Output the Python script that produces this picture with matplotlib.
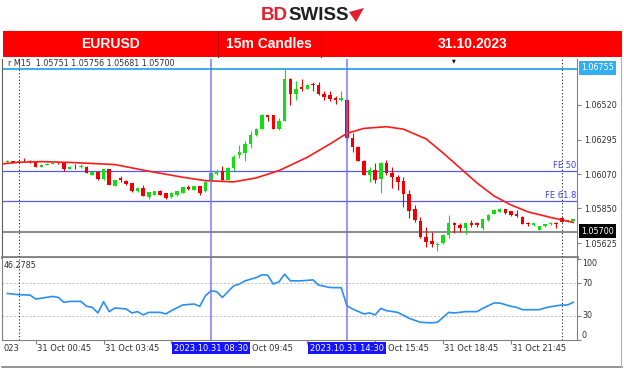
import matplotlib
matplotlib.use("Agg")
import matplotlib.pyplot as plt
from matplotlib.patches import Rectangle, Polygon
import numpy as np

# ---- data (EURUSD M15, bar 0 = 31 Oct 00:00) ----
bars = list(range(-2, 99))
opens = [1.06151, 1.06154, 1.06151, 1.06158, 1.06154, 1.06151, 1.06121, 1.06132, 1.06138, 1.06147,
         1.06143, 1.06108, 1.06121, 1.06116, 1.06117, 1.06067, 1.06088, 1.06039, 1.06104, 1.05998,
         1.06048, 1.06030, 1.06013, 1.05962, 1.05983, 1.05923, 1.05940, 1.05966, 1.05951, 1.05923,
         1.05936, 1.05951, 1.05986, 1.05972, 1.05994, 1.05962, 1.06026, 1.06074, 1.06091, 1.06037,
         1.06112, 1.06195, 1.06209, 1.06268, 1.06324, 1.06365, 1.06453, 1.06453, 1.06367, 1.06418,
         1.06690, 1.06591, 1.06635, 1.06625, 1.06656, 1.06647, 1.06591, 1.06583, 1.06565, 1.06554,
         1.06554, 1.06305, 1.06250, 1.06160, 1.06067, 1.06099, 1.06039, 1.06143, 1.06082, 1.06056,
         1.06030, 1.05944, 1.05845, 1.05771, 1.05668, 1.05642, 1.05614, 1.05625, 1.05679, 1.05758,
         1.05743, 1.05722, 1.05754, 1.05754, 1.05722, 1.05776, 1.05815, 1.05830, 1.05845, 1.05834,
         1.05813, 1.05797, 1.05758, 1.05742, 1.05711, 1.05737, 1.05748, 1.05758, 1.05787, 1.05765,
         1.05769]
highs = [1.06161, 1.06158, 1.06164, 1.06177, 1.06161, 1.06154, 1.06138, 1.06142, 1.06151, 1.06151,
         1.06145, 1.06125, 1.06138, 1.06135, 1.06122, 1.06093, 1.06093, 1.06106, 1.06106, 1.06035,
         1.06059, 1.06035, 1.06015, 1.05986, 1.06004, 1.05957, 1.05965, 1.05968, 1.05953, 1.05954,
         1.05964, 1.05991, 1.06002, 1.05996, 1.05996, 1.06025, 1.06083, 1.06106, 1.06123, 1.06116,
         1.06198, 1.06259, 1.06285, 1.06350, 1.06371, 1.06462, 1.06457, 1.06455, 1.06436, 1.06760,
         1.06695, 1.06673, 1.06690, 1.06656, 1.06669, 1.06669, 1.06609, 1.06609, 1.06576, 1.06613,
         1.06556, 1.06339, 1.06255, 1.06164, 1.06121, 1.06147, 1.06153, 1.06164, 1.06121, 1.06067,
         1.06056, 1.05970, 1.05873, 1.05797, 1.05733, 1.05700, 1.05636, 1.05682, 1.05808, 1.05765,
         1.05754, 1.05758, 1.05776, 1.05765, 1.05784, 1.05813, 1.05845, 1.05852, 1.05849, 1.05836,
         1.05841, 1.05800, 1.05765, 1.05756, 1.05739, 1.05750, 1.05761, 1.05765, 1.05792, 1.05776,
         1.05782]
lows = [1.06145, 1.06145, 1.06148, 1.06148, 1.06145, 1.06119, 1.06116, 1.06128, 1.06135, 1.06138,
        1.06095, 1.06106, 1.06108, 1.06112, 1.06077, 1.06064, 1.06037, 1.06037, 1.06000, 1.05994,
        1.06022, 1.06003, 1.05957, 1.05959, 1.05929, 1.05914, 1.05936, 1.05936, 1.05914, 1.05920,
        1.05933, 1.05947, 1.05968, 1.05970, 1.05940, 1.05959, 1.06024, 1.06067, 1.06035, 1.06035,
        1.06091, 1.06177, 1.06156, 1.06242, 1.06321, 1.06363, 1.06414, 1.06365, 1.06360, 1.06416,
        1.06522, 1.06554, 1.06609, 1.06622, 1.06609, 1.06583, 1.06554, 1.06548, 1.06526, 1.06544,
        1.06296, 1.06218, 1.06156, 1.06064, 1.06024, 1.06013, 1.05949, 1.06067, 1.05981, 1.05970,
        1.05858, 1.05788, 1.05765, 1.05658, 1.05603, 1.05603, 1.05578, 1.05621, 1.05658, 1.05690,
        1.05700, 1.05685, 1.05733, 1.05733, 1.05711, 1.05772, 1.05811, 1.05828, 1.05815, 1.05804,
        1.05797, 1.05747, 1.05739, 1.05737, 1.05708, 1.05733, 1.05746, 1.05722, 1.05761, 1.05763,
        1.05766]
closes = [1.06154, 1.06151, 1.06158, 1.06154, 1.06151, 1.06121, 1.06134, 1.06138, 1.06147, 1.06143,
          1.06104, 1.06121, 1.06116, 1.06125, 1.06082, 1.06088, 1.06039, 1.06104, 1.06003, 1.06032,
          1.06033, 1.06009, 1.05962, 1.05983, 1.05933, 1.05955, 1.05962, 1.05940, 1.05918, 1.05951,
          1.05962, 1.05988, 1.05977, 1.05994, 1.05951, 1.06022, 1.06080, 1.06091, 1.06037, 1.06112,
          1.06182, 1.06216, 1.06268, 1.06324, 1.06367, 1.06457, 1.06440, 1.06367, 1.06418, 1.06690,
          1.06591, 1.06623, 1.06625, 1.06651, 1.06647, 1.06591, 1.06570, 1.06561, 1.06554, 1.06565,
          1.06305, 1.06250, 1.06160, 1.06067, 1.06099, 1.06035, 1.06143, 1.06078, 1.06056, 1.06024,
          1.05944, 1.05836, 1.05776, 1.05668, 1.05635, 1.05621, 1.05621, 1.05679, 1.05758, 1.05743,
          1.05722, 1.05754, 1.05743, 1.05743, 1.05780, 1.05808, 1.05841, 1.05845, 1.05819, 1.05808,
          1.05802, 1.05750, 1.05748, 1.05754, 1.05737, 1.05748, 1.05758, 1.05750, 1.05765, 1.05774,
          1.05780]

# moving average (red curve)
ma_idx = [-3, 0, 4, 9, 13, 17, 23, 29, 33, 38, 42, 46, 51, 55, 58, 61, 65, 68, 72, 75,
          78, 81, 84, 87, 90, 94, 96, 98]
ma_val = [1.06138, 1.06149, 1.06153, 1.06148, 1.06141, 1.06134, 1.06091, 1.06052, 1.06030, 1.06022,
          1.06048, 1.06095, 1.06181, 1.06267, 1.06336, 1.06368, 1.06379, 1.06363, 1.06300, 1.06209,
          1.06112, 1.06015, 1.05931, 1.05873, 1.05828, 1.05792, 1.05776, 1.05760]

# oscillator (lower pane)
osc_idx = [-2, 0, 2, 3, 6, 7, 8, 9, 11, 12, 13, 14, 15, 16, 17, 19, 20, 21, 22, 23,
           25, 26, 27, 29, 31, 32, 33, 34, 35, 36, 38, 39, 40, 42, 43, 44, 45, 46, 47, 48,
           50, 52, 53, 55, 57, 58, 59, 61, 62, 63, 64, 65, 67, 69, 71, 73, 74, 76, 77, 79,
           81, 82, 84, 85, 87, 88, 89, 92, 93, 94, 96, 97, 98]
osc_val = [57.3, 55.7, 55.3, 50.4, 53.6, 52.4, 46.3, 47.5, 47.5, 41.4, 40.2, 33.3, 47.1, 34.9, 39.4,
           38.2, 33.3, 34.9, 30.9, 34.0, 34.0, 32.1, 36.1, 43.1, 44.3, 41.4, 54.5, 60.6, 59.4, 52.4,
           66.7, 68.8, 72.8, 76.9, 80.2, 79.8, 68.8, 71.6, 81.0, 72.8, 72.8, 74.0, 67.6, 64.6, 64.3,
           42.2, 38.2, 32.1, 33.3, 30.9, 38.9, 36.1, 34.0, 26.7, 21.8, 21.1, 21.8, 34.0, 33.3, 34.9,
           34.9, 38.9, 45.5, 45.5, 41.4, 40.2, 37.3, 37.3, 39.4, 41.0, 43.1, 43.1, 46.3]
osc_current = "46.2785"
osc_levels = [100, 70, 30, 0]

price_ticks = [1.06520, 1.06295, 1.06070, 1.05850, 1.05625]
high_level = 1.06755
fe50 = 1.06093
fe618 = 1.05901
bid_level = 1.05700

# time scale: tick bars and the part of each label left visible on screen
time_idx = [3, 15, 27, 39, 51, 63, 75, 87]
time_labels = ["31 Oct 00:45", "31 Oct 03:45", "", "Oct 09:45",
               "", "Oct 15:45", "31 Oct 18:45", "31 Oct 21:45"]
first_label = "023"
event_idx = [34, 58]
event_labels = ["2023.10.31 08:30", "2023.10.31 14:30"]
day_sep = [0, 96]

# ---- styling ----
GREEN = "#12dc12"
RED = "#ee0000"
EVENT = "#6e6eff"
FE = "#5a5af0"
FRAME = "#808080"
TXT = "#303030"

W, H = 624, 372
fig = plt.figure(figsize=(6.24, 3.72), dpi=100)


def box(x0, y0, x1, y1):
    return [x0 / W, 1 - y1 / H, (x1 - x0) / W, (y1 - y0) / H]


XLIM = (-2.95, 98.67)

# main price pane
ax = fig.add_axes(box(2, 59, 577, 257))
ax.set_xlim(*XLIM)
ax.set_ylim(1.05536, 1.06817)
o, h, l, c = map(np.array, (opens, highs, lows, closes))
cols = np.where(c >= o, GREEN, RED)
ax.vlines(bars, l, h, colors=cols, lw=0.8, zorder=3)
ax.bar(bars, np.maximum(np.abs(c - o), 0.00003), bottom=np.minimum(o, c),
       width=0.62, color=cols, linewidth=0, zorder=4)
ax.plot(ma_idx, ma_val, color="#ff1a1a", lw=1.2, zorder=5)

ax.axhline(high_level, color="#29a8e8", lw=1.3, zorder=2)
ax.axhline(fe50, color=FE, lw=0.9, zorder=2)
ax.axhline(fe618, color=FE, lw=0.9, zorder=2)
ax.axhline(bid_level, color="#8a8a8a", lw=1.4, zorder=2)

ax.set_xticks([])
ax.yaxis.tick_right()
ax.set_yticks(price_ticks)
ax.set_yticklabels([f"{p:.5f}" for p in price_ticks])
ax.tick_params(axis="y", length=3, width=0.8, color=FRAME, labelsize=5.8,
               labelcolor=TXT, pad=2)
ax.spines["top"].set_visible(False)
ax.spines["bottom"].set_color(FRAME)
ax.spines["bottom"].set_linewidth(2)
ax.spines["right"].set_color(FRAME)
ax.spines["left"].set_color("#606060")

# oscillator pane
ax2 = fig.add_axes(box(2, 258, 577, 340))
ax2.set_xlim(*XLIM)
ax2.set_ylim(0.6, 100.9)
ax2.plot(osc_idx, osc_val, color="#2a8ff0", lw=1.2, zorder=4)
for lv in (70, 30):
    ax2.axhline(lv, color="#bdbdbd", lw=0.7, ls=(0, (2, 2)), zorder=1)
ax2.set_xticks([])
ax2.yaxis.tick_right()
ax2.set_yticks(osc_levels)
ax2.set_yticklabels([])
ax2.tick_params(axis="y", length=3, width=0.8, color=FRAME)
ax2.spines["top"].set_visible(False)
for s in ("bottom", "right", "left"):
    ax2.spines[s].set_color(FRAME)

for a in (ax, ax2):
    for e in event_idx:
        a.axvline(e, color=EVENT, lw=1.2, alpha=0.85, zorder=6)
    for d in day_sep:
        a.axvline(d, color="#202020", lw=0.8, ls=(0, (1, 2)), zorder=6)

# time scale strip
ax3 = fig.add_axes(box(2, 340, 577, 367))
ax3.set_xlim(*XLIM)
ax3.set_ylim(0, 1)
ax3.axis("off")
ax3.vlines(time_idx, 0.85, 1.0, color=FRAME, lw=0.8)
ax3.annotate(first_label, (XLIM[0], 0.7), xytext=(1, 0), textcoords="offset pixels",
             ha="left", va="center", fontsize=6, color=TXT)
for t, lab in zip(time_idx, time_labels):
    if not lab:
        continue
    # labels cut at the front by the event boxes start a bit right of their tick
    shift = 1 if lab.startswith("31") else 13
    ax3.annotate(lab, (t, 0.7), xytext=(shift, 0), textcoords="offset pixels",
                 ha="left", va="center", fontsize=6, color=TXT)
for e, lab in zip(event_idx, event_labels):
    ax3.text(e, 0.7, lab, ha="center", va="center", fontsize=6, color="white", zorder=5,
             bbox=dict(boxstyle="square,pad=0.2", fc="#1414ff", ec="none"))

# overlay in pixel coordinates: header, logo, labels, frame
top = fig.add_axes([0, 0, 1, 1], facecolor="none")
top.set_xlim(0, W)
top.set_ylim(H, 0)
top.axis("off")

top.text(288, 15, "BD", ha="right", va="center", fontsize=13.5, fontweight="bold",
         color="#e31e2d", family="Liberation Sans")
top.text(288, 15, "SWISS", ha="left", va="center", fontsize=13.5, fontweight="bold",
         color="#1f1f1f", family="Liberation Sans")
top.add_patch(Polygon([(349, 12), (364, 8), (356, 22)], closed=True, fc="#e31e2d", ec="none"))

top.add_patch(Rectangle((3, 31), 619, 26, fc="#ff0000", ec="none"))
for xd in (218, 321):
    top.plot([xd, xd], [31, 57], color="#b00000", lw=0.8)
for xc, s in ((110, "EURUSD"), (269, "15m Candles"), (473, "31.10.2023")):
    top.text(xc, 44.5, s, ha="center", va="center", fontsize=10, fontweight="bold",
             color="white", family="Liberation Sans")

top.text(8, 64, "r M15  1.05751 1.05756 1.05681 1.05700", ha="left", va="center",
         fontsize=5.8, color=TXT)
top.text(454, 60.5, "\u25bc", ha="center", va="center", fontsize=3.5, color="black")
top.text(576, 166, "FE 50", ha="right", va="center", fontsize=6, color="#4040ee")
top.text(576, 195.5, "FE 61.8", ha="right", va="center", fontsize=6, color="#4040ee")
top.text(581, 68, f"{high_level:.5f}", ha="left", va="center", fontsize=5.8, color="white",
         bbox=dict(boxstyle="square,pad=0.3", fc="#33aef0", ec="none"))
top.text(581, 231, f"{bid_level:.5f}", ha="left", va="center", fontsize=5.8, color="white",
         bbox=dict(boxstyle="square,pad=0.3", fc="black", ec="none"))
top.text(4, 266, osc_current, ha="left", va="center", fontsize=5.8, color=TXT)
for yy, lv in zip((264, 284, 316, 335), osc_levels):
    top.text(582, yy, str(lv), ha="left", va="center", fontsize=5.8, color=TXT)

top.plot([2, 622], [367, 367], color=FRAME, lw=1.2)
top.plot([621, 621], [58, 367], color="#b0b0b0", lw=0.8)

fig.savefig("out.png", dpi=100)
